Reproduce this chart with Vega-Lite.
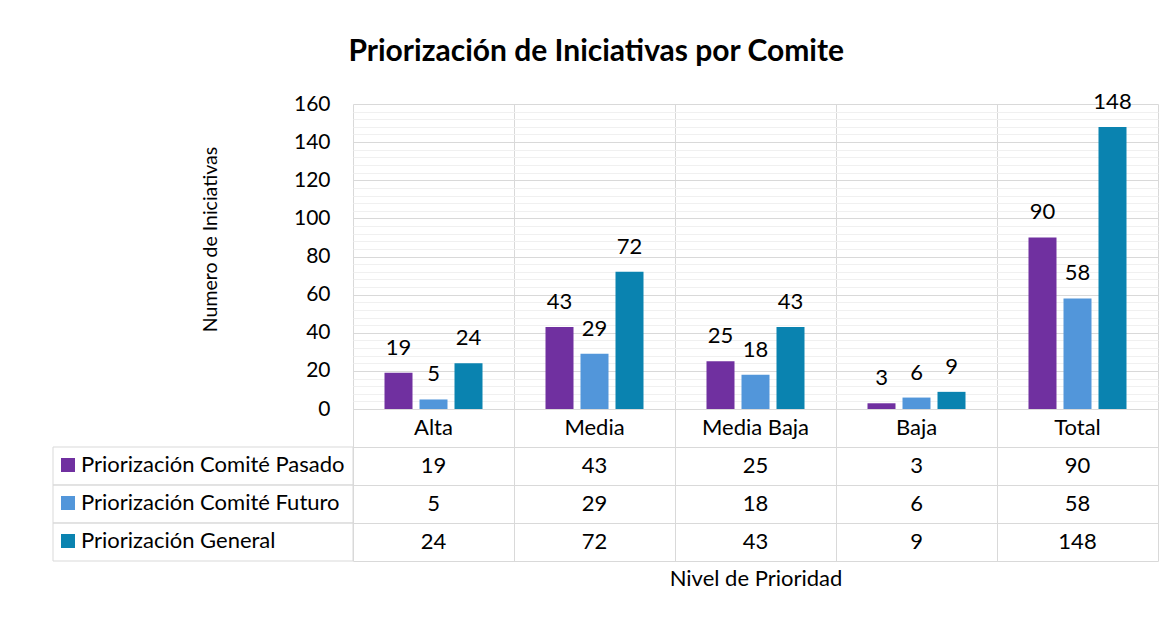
{
  "$schema": "https://vega.github.io/schema/vega-lite/v6.json",
  "background": "white",
  "padding": {"left": 52, "top": 36, "right": 10, "bottom": 10},
  "autosize": {"type": "pad"},
  "bounds": "flush",
  "spacing": 0,
  "columns": 2,
  "title": {"text": "Priorización de Iniciativas por Comite", "font": "Lato", "fontSize": 30, "fontWeight": "bold", "color": "#000", "anchor": "middle", "offset": 24, "dx": -9},
  "datasets": {
    "d": [
      {"nivel": "Alta", "serie": "Priorización Comité Pasado", "valor": 19},
      {"nivel": "Media", "serie": "Priorización Comité Pasado", "valor": 43},
      {"nivel": "Media Baja", "serie": "Priorización Comité Pasado", "valor": 25},
      {"nivel": "Baja", "serie": "Priorización Comité Pasado", "valor": 3},
      {"nivel": "Total", "serie": "Priorización Comité Pasado", "valor": 90},
      {"nivel": "Alta", "serie": "Priorización Comité Futuro", "valor": 5},
      {"nivel": "Media", "serie": "Priorización Comité Futuro", "valor": 29},
      {"nivel": "Media Baja", "serie": "Priorización Comité Futuro", "valor": 18},
      {"nivel": "Baja", "serie": "Priorización Comité Futuro", "valor": 6},
      {"nivel": "Total", "serie": "Priorización Comité Futuro", "valor": 58},
      {"nivel": "Alta", "serie": "Priorización General", "valor": 24},
      {"nivel": "Media", "serie": "Priorización General", "valor": 72},
      {"nivel": "Media Baja", "serie": "Priorización General", "valor": 43},
      {"nivel": "Baja", "serie": "Priorización General", "valor": 9},
      {"nivel": "Total", "serie": "Priorización General", "valor": 148}
    ]
  },
  "config": {
    "font": "Lato",
    "view": {"stroke": null},
    "axis": {"labelFont": "Lato", "titleFont": "Lato", "labelFontSize": 21, "titleFontSize": 22, "labelColor": "#000", "titleColor": "#000", "titleFontWeight": "normal"},
    "text": {"font": "Lato", "fontSize": 22, "color": "#000"}
  },
  "concat": [
    {
      "width": 300,
      "height": 305,
      "data": {"values": []},
      "mark": {"type": "text"},
      "encoding": {}
    },
    {
      "width": 805,
      "height": 305,
      "data": {"name": "d"},
      "encoding": {
        "x": {"field": "nivel", "type": "nominal", "sort": ["Alta", "Media", "Media Baja", "Baja", "Total"], "scale": {"paddingInner": 0, "paddingOuter": 0},
              "axis": {"title": null, "labels": false, "ticks": false, "domain": false, "grid": true, "tickBand": "extent", "gridColor": "#d9d9d9"}},
        "xOffset": {"field": "serie", "type": "nominal", "sort": ["Priorización Comité Pasado", "Priorización Comité Futuro", "Priorización General"], "scale": {"paddingInner": 0.2, "paddingOuter": 0.9}},
        "y": {"field": "valor", "type": "quantitative", "scale": {"domain": [0, 160], "nice": false},
              "axis": {"title": "Numero de Iniciativas", "titleFontSize": 19.5, "values": [0,4,8,12,16,20,24,28,32,36,40,44,48,52,56,60,64,68,72,76,80,84,88,92,96,100,104,108,112,116,120,124,128,132,136,140,144,148,152,156,160],
                       "labelExpr": "datum.value % 20 === 0 ? datum.label : ''", "ticks": false, "tickSize": 0, "domain": false, "grid": true,
                       "gridColor": {"condition": {"test": "datum.value % 20 === 0", "value": "#d9d9d9"}, "value": "#f0f0f0"},
                       "labelPadding": 23, "titlePadding": 73, "titleY": 135}}
      },
      "layer": [
        {"mark": {"type": "bar"},
         "encoding": {"color": {"field": "serie", "type": "nominal", "sort": ["Priorización Comité Pasado", "Priorización Comité Futuro", "Priorización General"],
                                "scale": {"domain": ["Priorización Comité Pasado", "Priorización Comité Futuro", "Priorización General"], "range": ["#7030A0", "#5296DA", "#0A83B0"]},
                                "legend": {"orient": "none", "legendX": 4, "legendY": 350, "title": null, "symbolType": "square", "symbolSize": 196, "symbolStrokeWidth": 0, "symbolOpacity": 1,
                                           "labelFontSize": 22, "labelFont": "Lato", "labelColor": "#000", "labelOffset": 2, "rowPadding": 16, "labelLimit": 400, "direction": "vertical", "padding": 0, "offset": 0}}}},
        {"mark": {"type": "text", "baseline": "alphabetic", "dy": -18},
         "encoding": {"text": {"field": "valor", "type": "quantitative"}}}
      ]
    },
    {
      "width": 300,
      "height": 152,
      "data": {"name": "d"},
      "transform": [{"aggregate": [{"op": "count", "as": "n"}], "groupby": ["serie"]}],
      "mark": {"type": "rect", "fill": "transparent", "stroke": "#d9d9d9", "strokeWidth": 1},
      "encoding": {
        "y": {"field": "serie", "type": "nominal", "scale": {"domain": ["hdr", "Priorización Comité Pasado", "Priorización Comité Futuro", "Priorización General"], "paddingInner": 0, "paddingOuter": 0}, "axis": null}
      }
    },
    {
      "width": 805,
      "height": 152,
      "data": {"name": "d"},
      "encoding": {
        "x": {"field": "nivel", "type": "nominal", "sort": ["Alta", "Media", "Media Baja", "Baja", "Total"], "scale": {"paddingInner": 0, "paddingOuter": 0},
              "axis": {"title": "Nivel de Prioridad", "labels": false, "ticks": false, "domain": false, "grid": true, "tickBand": "extent", "gridColor": "#d9d9d9", "titlePadding": 7}}
      },
      "layer": [
        {"mark": {"type": "text"},
         "encoding": {
           "y": {"field": "serie", "type": "nominal", "scale": {"domain": ["hdr", "Priorización Comité Pasado", "Priorización Comité Futuro", "Priorización General"], "paddingInner": 0, "paddingOuter": 0},
                 "axis": {"title": null, "labels": false, "ticks": false, "domain": false, "grid": true, "tickBand": "extent", "gridColor": "#d9d9d9"}},
           "text": {"field": "valor", "type": "quantitative"}
         }},
        {"transform": [{"aggregate": [{"op": "count", "as": "n"}], "groupby": ["nivel"]}],
         "mark": {"type": "text"},
         "encoding": {
           "y": {"datum": "hdr", "type": "nominal"},
           "text": {"field": "nivel", "type": "nominal"}
         }}
      ]
    }
  ]
}
